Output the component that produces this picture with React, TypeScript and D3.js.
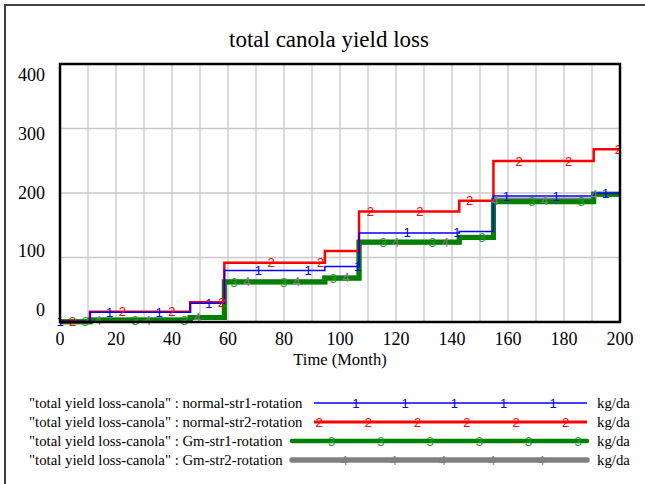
import React from "react";
import * as d3 from "d3";

// ---- data ----
const stepMonths = [0, 10.7, 46.5, 58.7, 94.6, 106.8, 142.6, 154.8, 190.6, 200];
const normalStr1 = [1, 15, 29, 80, 86, 138, 140.5, 195.3, 199.5];
const normalStr2 = [1, 16, 30.5, 92, 110, 171.5, 188, 249.6, 268];
const gmStr1 = [0.5, 3, 7, 62, 68, 123.5, 131, 186.5, 198];
const gmStr2 = [0.5, 3, 7, 62.5, 68.5, 124, 131.5, 189, 198];
const xTicks = [0, 20, 40, 60, 80, 100, 120, 140, 160, 180, 200];
const yTicks = [0, 100, 200, 300, 400];
const seriesNames = [
  "\"total yield loss-canola\" : normal-str1-rotation",
  "\"total yield loss-canola\" : normal-str2-rotation",
  "\"total yield loss-canola\" : Gm-str1-rotation",
  "\"total yield loss-canola\" : Gm-str2-rotation",
];
const seriesMarks = ["1", "2", "3", "4"];
const unitLabel = "kg/da";

const W = 645, H = 484;
const plot = { left: 60, right: 620, top: 64, bottom: 322 };

const series = [
  { values: normalStr1, color: "#0000ff", mark: "#0000ff", width: 1.5, legendWidth: 1.5, legendStart: 314 },
  { values: normalStr2, color: "#ff0000", mark: "#ff0000", width: 2.5, legendWidth: 3, legendStart: 314 },
  { values: gmStr1, color: "#008000", mark: "#2a9a2a", width: 5, legendWidth: 4.5, legendStart: 292 },
  { values: gmStr2, color: "#808080", mark: "#808080", width: 5, legendWidth: 5.5, legendStart: 292 },
];

function valueAt(vals: number[], m: number) {
  let idx = 0;
  for (let i = 0; i < stepMonths.length - 1; i++) if (m >= stepMonths[i]) idx = i;
  return vals[Math.min(idx, vals.length - 1)];
}

export default function App() {
  const x = d3.scaleLinear().domain([0, 200]).range([plot.left, plot.right]);
  const y = d3.scaleLinear().domain([0, 400]).range([plot.bottom, plot.top]);
  const yLabel = d3.scaleLinear().domain([0, 400]).range([310, 75]);
  const line = d3
    .line<[number, number]>()
    .x((d) => x(d[0]))
    .y((d) => y(d[1]))
    .curve(d3.curveStepAfter);

  const gridX = d3.range(10, 200, 10);
  const gridY = [100, 200, 300];

  const markStepPx = 49.6;
  const serif = "'Liberation Serif', 'Times New Roman', serif";
  const sans = "'Liberation Sans', Arial, sans-serif";

  const legendRowY = [403, 422, 441, 460];
  const legendEnd = 587;

  return (
    <svg width={W} height={H} style={{ position: "absolute", left: 0, top: 0, background: "#fff" }}>
      <rect x={0} y={0} width={W} height={H} fill="#fff" />
      <rect x={5} y={5} width={W + 20} height={H + 20} fill="none" stroke="#404040" strokeWidth={2} />
      <text x={329} y={47} textAnchor="middle" fontFamily={serif} fontSize={23} fill="#000">
        total canola yield loss
      </text>
      {/* grid */}
      {gridX.map((m) => (
        <line key={"gx" + m} x1={x(m)} x2={x(m)} y1={plot.top} y2={plot.bottom} stroke="#c8c8c8" strokeWidth={1.3} />
      ))}
      {gridY.map((v) => (
        <line key={"gy" + v} x1={plot.left} x2={plot.right} y1={y(v)} y2={y(v)} stroke="#c8c8c8" strokeWidth={1.3} />
      ))}
      {/* series lines */}
      {[3, 2, 1, 0].map((si) => {
        const s = series[si];
        const pts: [number, number][] = stepMonths.map((m, i) => [m, s.values[Math.min(i, s.values.length - 1)]]);
        return <path key={"l" + si} d={line(pts) || ""} fill="none" stroke={s.color} strokeWidth={s.width} />;
      })}
      {/* markers */}
      {series.map((s, si) => {
        const start = plot.left + si * 12.7;
        const xs = d3.range(start, plot.right + 1, markStepPx);
        return xs.map((px, k) => {
          const m = x.invert(px);
          return (
            <text
              key={"m" + si + "-" + k}
              x={px}
              y={y(valueAt(s.values, m))}
              textAnchor="middle"
              dominantBaseline="central"
              fontFamily={sans}
              fontSize={13}
              fill={s.mark}
            >
              {seriesMarks[si]}
            </text>
          );
        });
      })}
      {/* frame */}
      <rect x={plot.left} y={plot.top} width={plot.right - plot.left} height={plot.bottom - plot.top} fill="none" stroke="#000" strokeWidth={2.5} />
      {/* axes labels */}
      {xTicks.map((t) => (
        <text key={"xt" + t} x={x(t)} y={339} textAnchor="middle" dominantBaseline="central" fontFamily={serif} fontSize={18} fill="#000">
          {t}
        </text>
      ))}
      {yTicks.map((t) => (
        <text key={"yt" + t} x={45} y={yLabel(t)} textAnchor="end" dominantBaseline="central" fontFamily={serif} fontSize={18} fill="#000">
          {t}
        </text>
      ))}
      <text x={340} y={359} textAnchor="middle" dominantBaseline="central" fontFamily={serif} fontSize={16.5} fill="#000">
        Time (Month)
      </text>
      {/* legend */}
      {series.map((s, si) => {
        const ly = legendRowY[si];
        const base = 306.5 + si * 12.5;
        const xs = d3.range(base, legendEnd + 1, 49.3).filter((px) => px >= s.legendStart - 1);
        return (
          <g key={"lg" + si}>
            <text x={29} y={ly} dominantBaseline="central" fontFamily={serif} fontSize={14.8} fill="#000">
              {seriesNames[si]}
            </text>
            <line
              x1={s.legendStart}
              x2={legendEnd}
              y1={ly}
              y2={ly}
              stroke={s.color}
              strokeWidth={s.legendWidth}
              strokeLinecap={si >= 2 ? "round" : "butt"}
            />
            {xs.map((px, k) => (
              <text key={k} x={px} y={ly} textAnchor="middle" dominantBaseline="central" fontFamily={sans} fontSize={13} fill={s.mark}>
                {seriesMarks[si]}
              </text>
            ))}
            <text x={597} y={ly} dominantBaseline="central" fontFamily={serif} fontSize={14.8} fill="#000">
              {unitLabel}
            </text>
          </g>
        );
      })}
    </svg>
  );
}
